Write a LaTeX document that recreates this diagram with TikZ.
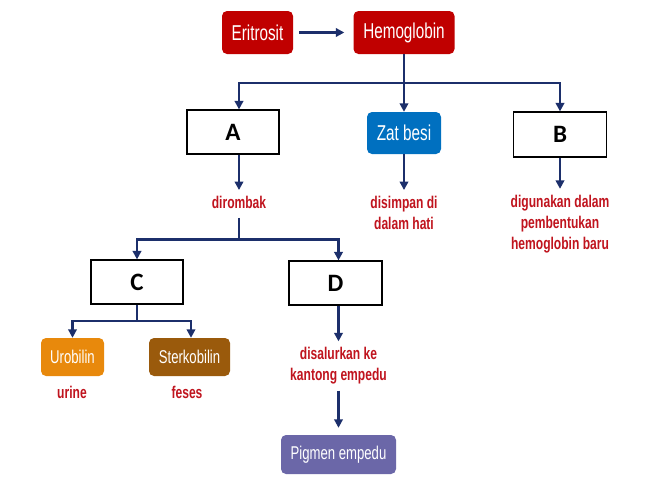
\documentclass[tikz,border=0pt]{standalone}
\usepackage{fontspec}
\setmainfont{Liberation Sans}
\newfontfamily\narf[FakeStretch=0.71]{Liberation Sans}
\newfontfamily\calf{Carlito}
\usetikzlibrary{arrows.meta,calc}
\definecolor{navy}{HTML}{1C2F6B}
\definecolor{dred}{HTML}{C00000}
\definecolor{lred}{HTML}{C0141E}
\definecolor{zblue}{HTML}{0070C0}
\definecolor{uro}{HTML}{E8890C}
\definecolor{ster}{HTML}{9A5A0C}
\definecolor{pig}{HTML}{6B67A8}
\begin{document}
\begin{tikzpicture}[x=1pt,y=-1pt,
  colbox/.style={rounded corners=5pt, inner sep=0pt, text=white,
    font=\narf\fontsize{21.5}{23}\selectfont},
  smallcol/.style={colbox, font=\narf\fontsize{18.5}{20}\selectfont},
  letbox/.style={draw=black, line width=1.2pt, fill=white, inner sep=0pt,
    font=\calf\bfseries\fontsize{25}{25}\selectfont},
  lbl/.style={text=lred, inner sep=6pt, align=center,
    font=\narf\bfseries\fontsize{17}{21}\selectfont},
  ln/.style={draw=navy, line width=2.8pt},
  arr/.style={ln, -{Triangle[width=8.5pt,length=8.5pt]}}
]
\useasboundingbox[fill=white] (0,0) rectangle (652,477);

% nodes
\node[colbox, fill=dred, minimum width=71pt, minimum height=43pt] (erit) at (257.5,32.5) {Eritrosit};
\node[colbox, fill=dred, minimum width=101pt, minimum height=43pt] (hemo) at (404,32.5) {Hemoglobin};
\node[letbox, minimum width=92pt, minimum height=44pt] (A) at (233,132) {A};
\node[colbox, fill=zblue, minimum width=74pt, minimum height=42pt] (zat) at (404,133) {Zat besi};
\node[letbox, minimum width=93pt, minimum height=45pt] (B) at (560,134.5) {B};
\node[lbl] (dir) at (239,202.5) {dirombak};
\node[lbl] (sim) at (404,213) {disimpan di\\dalam hati};
\node[lbl] (dig) at (560,224) {digunakan dalam\\pembentukan\\hemoglobin baru};
\node[letbox, minimum width=92pt, minimum height=44pt] (C) at (137,282) {C};
\node[letbox, minimum width=93pt, minimum height=44pt] (D) at (335.5,283) {D};
\node[smallcol, fill=uro, minimum width=63pt, minimum height=38pt] (uro) at (72.5,357) {Urobilin};
\node[smallcol, fill=ster, minimum width=81pt, minimum height=38pt] (ster) at (189.5,357) {Sterkobilin};
\node[lbl] (urine) at (72,392) {urine};
\node[lbl] (feses) at (187,392) {feses};
\node[lbl] (sal) at (338.5,366) {disalurkan ke\\kantong empedu};
\node[smallcol, fill=pig, minimum width=115pt, minimum height=39pt] (pig) at (338.5,454.5) {Pigmen empedu};

% junctions
\coordinate (hj) at (404,83);
\coordinate (dj) at (239,239.5);
\coordinate (cj) at (137,321);

% connectors
\draw[arr, shorten <=6pt, shorten >=9pt] (erit) -- (hemo);
\draw[ln] (hemo.south) -- (hj);
\draw[arr] (hj) -- (zat.north);
\draw[arr] (hj) -| ([xshift=6pt]A.north);
\draw[arr] (hj) -| (B.north);
\draw[arr] ([xshift=6pt]A.south) -- (dir.north);
\draw[arr] (zat.south) -- (sim.north);
\draw[arr] (B.south) -- (dig.north);
\draw[ln, shorten <=3pt] (dir.south) -- (dj);
\draw[arr] (dj) -| (C.north);
\draw[arr] (dj) -| ([xshift=3pt]D.north);
\draw[ln] (C.south) -- (cj);
\draw[arr] (cj) -| (uro.north);
\draw[arr] (cj) -| ([xshift=1.5pt]ster.north);
\draw[arr] ([xshift=3pt]D.south) -- (sal.north);
\draw[arr, shorten >=7pt] (sal.south) -- (pig.north);
\end{tikzpicture}
\end{document}
